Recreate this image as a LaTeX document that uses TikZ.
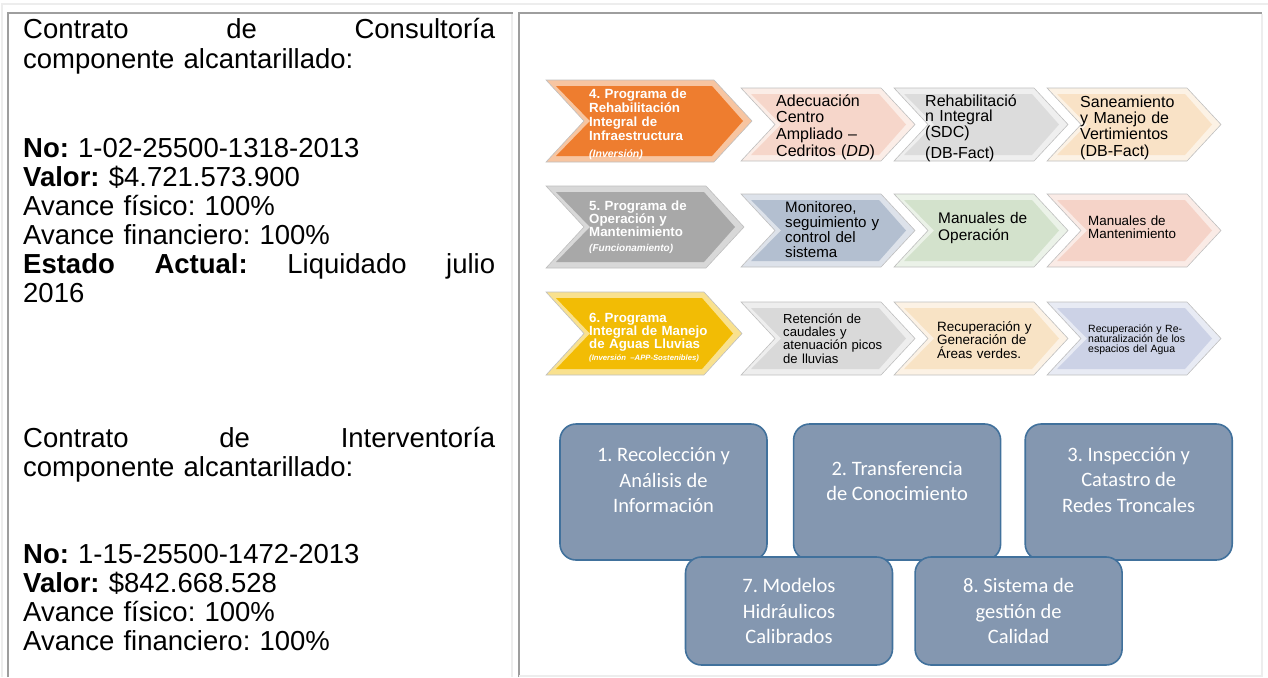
\documentclass[tikz,border=0pt]{standalone}
\usepackage{fontspec}
\setmainfont{Liberation Sans}
\newfontfamily\cali{Carlito}
\usetikzlibrary{positioning}
\frenchspacing

\definecolor{naranja}{HTML}{EE7D2F}
\definecolor{grisprog}{HTML}{A8A8A8}
\definecolor{amarillo}{HTML}{F2BC05}
\definecolor{rosaA}{HTML}{F6D6CA}
\definecolor{grisA}{HTML}{DCDCDC}
\definecolor{beigeA}{HTML}{F9E2C6}
\definecolor{azulgris}{HTML}{B3BFD0}
\definecolor{verde}{HTML}{D3E2CC}
\definecolor{rosaB}{HTML}{F5D3C8}
\definecolor{grisC}{HTML}{D9D9D9}
\definecolor{beigeC}{HTML}{F8E3C5}
\definecolor{lavanda}{HTML}{CCD2E6}
\definecolor{cajafondo}{HTML}{8497B0}
\definecolor{cajaborde}{HTML}{41719C}
\definecolor{reglaclara}{HTML}{EDEDED}
\definecolor{reglaoscura}{HTML}{9E9E9E}

% chevron: x, y, width, height, depth, colour
\newcommand\chev[6]{%
  \filldraw[fill=#6!45!white, draw=black!25, line width=0.6pt]
    (#1,#2) -- (#1+#3-#5,#2) -- (#1+#3,#2+#4/2) -- (#1+#3-#5,#2+#4)
    -- (#1,#2+#4) -- (#1+#5,#2+#4/2) -- cycle;
  \fill[#6]
    (#1+10,#2+6) -- (#1+#3-#5-2,#2+6) -- (#1+#3-9,#2+#4/2) -- (#1+#3-#5-2,#2+#4-6)
    -- (#1+10,#2+#4-6) -- (#1+#5+6,#2+#4/2) -- cycle;
}

\begin{document}
\begin{tikzpicture}[x=1pt, y=-1pt,
    celltext/.style={anchor=base west, inner sep=0pt, text width=472pt, align=left,
      font=\fontsize{27.5}{29}\selectfont},
    progtext/.style={anchor=base west, inner sep=0pt, text width=150pt, align=left,
      text=white, font=\bfseries\fontsize{13.3}{14}\selectfont},
    subtext/.style={anchor=base west, inner sep=0pt, text width=130pt, align=left},
    tarea/.style={rectangle, rounded corners=16pt, fill=cajafondo, draw=cajaborde,
      line width=1.6pt, minimum width=207pt, minimum height=136pt, inner sep=0pt},
    tareatext/.style={text=white, font=\cali\fontsize{20.5}{25.5}\selectfont,
      align=center, inner sep=0pt},
    reglaA/.style={draw=reglaclara, line width=2pt},
    reglaB/.style={draw=reglaoscura, line width=2.5pt}]
  \useasboundingbox (0,0) rectangle (1268,677);
  %
  % table rules
  \draw[reglaA] (2,677) -- (2,4) -- (1268,4);
  \draw[reglaB] (8,677) -- (8,13) -- (513,13);
  \draw[reglaA] (512,14) -- (512,677);
  \draw[reglaB] (519,677) -- (519,13) -- (1262,13);
  \draw[reglaA] (1262,14) -- (1262,677);
  \draw[reglaA] (519,676) -- (1262,676);
  %
  % left cell
  \node[celltext] (consA) at (23,39) {Contrato\hfill de\hfill Consultoría\\componente alcantarillado:};
  \node[celltext] (consB) at (23,157) {\textbf{No:} 1-02-25500-1318-2013\\
    \textbf{Valor:} \$4.721.573.900\\Avance físico: 100\%\\Avance financiero: 100\%\\
    \textbf{Estado\hfill Actual:}\hfill Liquidado\hfill julio\\2016};
  \node[celltext] (intA) at (23,447) {Contrato\hfill de\hfill Interventoría\\componente alcantarillado:};
  \node[celltext] (intB) at (23,563) {\textbf{No:} 1-15-25500-1472-2013\\
    \textbf{Valor:} \$842.668.528\\Avance físico: 100\%\\Avance financiero: 100\%};
  %
  % row 4
  \chev{546}{80}{206}{82}{38}{naranja}
  \chev{741}{88}{174}{73}{34}{rosaA}
  \chev{894}{88}{174}{73}{34}{grisA}
  \chev{1047}{88}{174}{73}{34}{beigeA}
  \node[progtext] (p4) at (589,98) {4. Programa de\\Rehabilitación\\Integral de\\Infraestructura\\[3pt]
    {\itshape\fontsize{10.5}{12}\selectfont(Inversión)}};
  \node[subtext, font=\fontsize{16}{16.7}\selectfont] (p4a) at (776,106) {Adecuación\\Centro\\Ampliado –\\Cedritos (\textit{DD})};
  \node[subtext, font=\fontsize{16}{15.5}\selectfont] (p4b) at (925,106) {Rehabilitació\\n Integral\\(SDC)\\[6pt](DB-Fact)};
  \node[subtext, font=\fontsize{16}{16.2}\selectfont] (p4c) at (1080,107.5) {Saneamiento\\y Manejo de\\Vertimientos\\(DB-Fact)};
  %
  % row 5
  \chev{546}{186}{198}{82}{38}{grisprog}
  \chev{741}{194}{174}{73}{34}{azulgris}
  \chev{894}{194}{174}{73}{34}{verde}
  \chev{1047}{194}{174}{73}{34}{rosaB}
  \node[progtext, font=\bfseries\fontsize{13.3}{13}\selectfont] (p5) at (589,210) {5. Programa de\\Operación y\\Mantenimiento\\[2pt]
    {\itshape\fontsize{10}{12}\selectfont(Funcionamiento)}};
  \node[subtext, font=\fontsize{15.1}{15}\selectfont] (p5a) at (785,212) {Monitoreo,\\seguimiento y\\control del\\sistema};
  \node[subtext, font=\fontsize{15.4}{16.7}\selectfont] (p5b) at (938,223.5) {Manuales de\\Operación};
  \node[subtext, font=\fontsize{13.4}{13}\selectfont] (p5c) at (1088,225) {Manuales de\\Mantenimiento};
  %
  % row 6
  \chev{546}{292}{196}{83}{38}{amarillo}
  \chev{741}{302}{174}{73}{34}{grisC}
  \chev{894}{302}{174}{73}{34}{beigeC}
  \chev{1047}{302}{174}{73}{34}{lavanda}
  \node[progtext, font=\bfseries\fontsize{13.3}{13}\selectfont] (p6) at (589,322) {6. Programa\\Integral de Manejo\\de Aguas Lluvias\\[-1pt]
    {\itshape\fontsize{7.7}{9}\selectfont(Inversión –APP-Sostenibles)}};
  \node[subtext, font=\fontsize{13.1}{13.4}\selectfont] (p6a) at (783,323) {Retención de\\caudales y\\atenuación picos\\de lluvias};
  \node[subtext, font=\fontsize{13.5}{13.3}\selectfont] (p6b) at (937,331.5) {Recuperación y\\Generación de\\Áreas verdes.};
  \node[subtext, font=\fontsize{10.5}{10.2}\selectfont] (p6c) at (1088,332) {Recuperación y Re-\\naturalización de los\\espacios del Agua};
  %
  % component boxes
  \node[tarea] (b1) at (663.5,492) {};
  \node[tarea, right=25pt of b1] (b2) {};
  \node[tarea, right=23pt of b2] (b3) {};
  \node[tarea, minimum height=108pt] (b7) at (789,611) {};
  \node[tarea, minimum height=108pt, right=21pt of b7] (b8) {};
  \node[tareatext] (b1t) at ([yshift=12pt]b1.center) {1. Recolección y\\Análisis de\\Información};
  \node[tareatext] (b2t) at ([yshift=11pt]b2.center) {2. Transferencia\\de Conocimiento};
  \node[tareatext] (b3t) at ([yshift=12pt]b3.center) {3. Inspección y\\Catastro de\\Redes Troncales};
  \node[tareatext] (b7t) at (b7.center) {7. Modelos\\Hidráulicos\\Calibrados};
  \node[tareatext] (b8t) at (b8.center) {8. Sistema de\\gestión de\\Calidad};
  %
\end{tikzpicture}
\end{document}
